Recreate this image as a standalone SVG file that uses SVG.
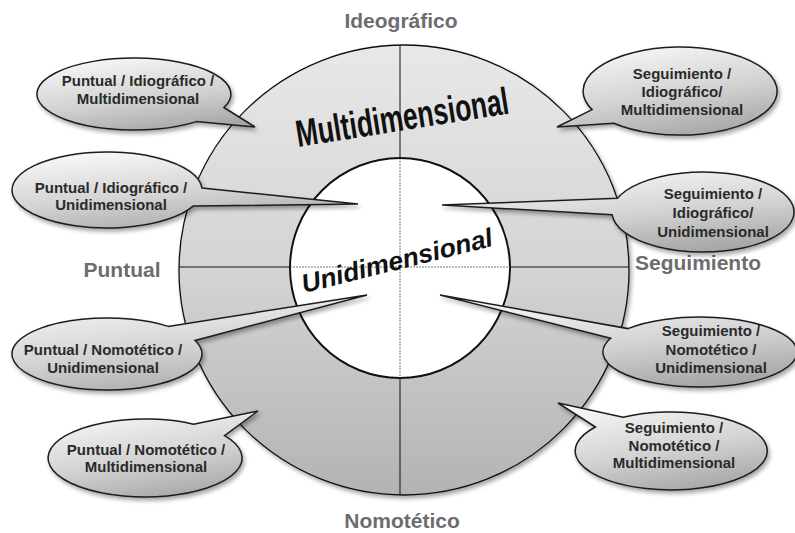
<svg xmlns="http://www.w3.org/2000/svg" width="795" height="533" viewBox="0 0 795 533">
<defs>
  <linearGradient id="ringGrad" x1="0" y1="0" x2="0" y2="1">
    <stop offset="0" stop-color="#e8e8e8"/>
    <stop offset="0.5" stop-color="#d4d4d4"/>
    <stop offset="1" stop-color="#b3b3b3"/>
  </linearGradient>
  <linearGradient id="bubbleGrad" x1="0.3" y1="0" x2="0.7" y2="1">
    <stop offset="0" stop-color="#f6f6f6"/>
    <stop offset="0.55" stop-color="#d2d2d2"/>
    <stop offset="1" stop-color="#a6a6a6"/>
  </linearGradient>
  <filter id="shadow" x="-20%" y="-20%" width="150%" height="160%">
    <feGaussianBlur in="SourceAlpha" stdDeviation="2"/>
    <feOffset dx="2" dy="3"/>
    <feComponentTransfer><feFuncA type="linear" slope="0.35"/></feComponentTransfer>
    <feMerge><feMergeNode/><feMergeNode in="SourceGraphic"/></feMerge>
  </filter>
</defs>
<style>
  .bubble { fill: url(#bubbleGrad); stroke: #1e1e1e; stroke-width: 1.5; filter: url(#shadow); }
  .btext { font-family: "Liberation Sans", Arial, sans-serif; font-weight: bold; font-size: 15px; fill: #2a2a2a; text-anchor: middle; }
  .axis-label { font-family: "Liberation Sans", Arial, sans-serif; font-weight: bold; font-size: 21px; fill: #6d6d6d; text-anchor: middle; }
  .axis { stroke: #111; stroke-width: 1; }
  .axis-in { stroke: #555; stroke-width: 0.8; stroke-dasharray: 2 1; }
</style>
<rect width="795" height="533" fill="#ffffff"/>

<g id="outer-ring">
  <circle cx="404" cy="270" r="225" fill="url(#ringGrad)" stroke="#111" stroke-width="1.3" filter="url(#shadow)"/>
</g>
<g id="axes">
  <line class="axis" x1="400" y1="45" x2="400" y2="495"/>
  <line class="axis" x1="179" y1="267" x2="629" y2="267"/>
</g>
<g id="inner-circle">
  <circle cx="400" cy="268" r="110" fill="#ffffff" stroke="#111" stroke-width="2"/>
  <line class="axis-in" x1="400" y1="158" x2="400" y2="378"/>
  <line class="axis-in" x1="290" y1="267" x2="510" y2="267"/>
</g>

<g id="ring-labels">
  <text transform="translate(298,147) rotate(-9)" x="0" y="0" textLength="215" lengthAdjust="spacingAndGlyphs" font-family="Liberation Sans Narrow, Liberation Sans, Arial, sans-serif" font-weight="bold" font-size="38" fill="#111">Multidimensional</text>
  <text transform="translate(304,293) rotate(-14)" x="0" y="0" textLength="196" lengthAdjust="spacingAndGlyphs" font-family="Liberation Sans, Arial, sans-serif" font-weight="bold" font-style="italic" font-size="26" fill="#111">Unidimensional</text>
</g>

<g id="axis-labels">
  <text class="axis-label" x="401" y="28">Ideográfico</text>
  <text class="axis-label" x="402" y="528">Nomotético</text>
  <text class="axis-label" x="122" y="277">Puntual</text>
  <text class="axis-label" x="698" y="270">Seguimiento</text>
</g>

<g id="callout-pim">
  <path class="bubble" d="M223.9,107.5 L255,127 L196.4,121.6 A97,36 0 1 1 223.9,107.5 Z"/>
  <text class="btext" x="138" y="86">Puntual / Idiográfico /</text>
  <text class="btext" x="138" y="104">Multidimensional</text>
</g>
<g id="callout-sim">
  <path class="bubble" d="M613.8,123.2 L557,127 L592.1,109.6 A97,44 0 1 1 613.8,123.2 Z"/>
  <text class="btext" x="682" y="79">Seguimiento /</text>
  <text class="btext" x="682" y="97">Idiográfico/</text>
  <text class="btext" x="682" y="115">Multidimensional</text>
</g>
<g id="callout-piu">
  <path class="bubble" d="M201.9,188 L358,204 L193.1,206.1 A95,38 0 1 1 201.9,188 Z"/>
  <text class="btext" x="111" y="193">Puntual / Idiográfico /</text>
  <text class="btext" x="111" y="210">Unidimensional</text>
</g>
<g id="callout-siu">
  <path class="bubble" d="M612.2,214.8 L442,205 L617.5,198.3 A91,40 0 1 1 612.2,214.8 Z"/>
  <text class="btext" x="713" y="199">Seguimiento /</text>
  <text class="btext" x="713" y="218">Idiográfico/</text>
  <text class="btext" x="713" y="237">Unidimensional</text>
</g>
<g id="callout-pnu">
  <path class="bubble" d="M168.1,326.4 L367,295 L195.1,340.5 A95,36 0 1 1 168.1,326.4 Z"/>
  <text class="btext" x="103" y="355">Puntual / Nomotético /</text>
  <text class="btext" x="103" y="373">Unidimensional</text>
</g>
<g id="callout-snu">
  <path class="bubble" d="M610.7,338.3 L440,295 L627.9,328.6 A97,35 0 1 1 610.7,338.3 Z"/>
  <text class="btext" x="711" y="336">Seguimiento /</text>
  <text class="btext" x="711" y="355">Nomotético /</text>
  <text class="btext" x="711" y="373">Unidimensional</text>
</g>
<g id="callout-pnm">
  <path class="bubble" d="M193.5,424.2 L258,411 L224.5,435.6 A97,39 0 1 1 193.5,424.2 Z"/>
  <text class="btext" x="146" y="455">Puntual / Nomotético /</text>
  <text class="btext" x="146" y="472">Multidimensional</text>
</g>
<g id="callout-snm">
  <path class="bubble" d="M595.4,427 L558,403 L623,417.2 A96,39 0 1 1 595.4,427 Z"/>
  <text class="btext" x="674" y="433">Seguimiento /</text>
  <text class="btext" x="674" y="451">Nomotético /</text>
  <text class="btext" x="674" y="468">Multidimensional</text>
</g>
</svg>
